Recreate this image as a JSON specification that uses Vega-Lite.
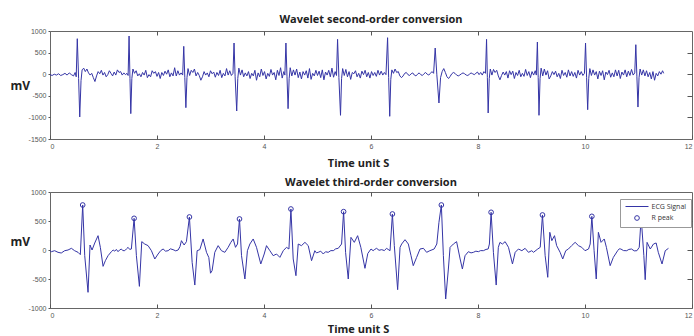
{
"$schema": "https://vega.github.io/schema/vega-lite/v6.json",
"padding": {"left": 9, "top": 13, "right": 0, "bottom": 0},
"bounds": "flush",
"spacing": 53,
"config": {
  "view": {"stroke": "#666", "strokeWidth": 1},
  "axis": {"grid": false, "domain": false, "minExtent": 0, "labelFont": "Liberation Sans", "labelFontSize": 7, "labelColor": "#555", "tickColor": "#555", "titleFont": "Open Sans", "titleFontSize": 11, "titleFontWeight": "bold", "titleColor": "#222"},
  "title": {"font": "Open Sans", "fontSize": 11, "fontWeight": "bold", "color": "#222", "anchor": "middle"}
},
"datasets": {
"top": [
{"t":0,"v":-10},{"t":0.04,"v":-30},{"t":0.08,"v":0},{"t":0.12,"v":-20},{"t":0.16,"v":10},{"t":0.2,"v":-30},{"t":0.24,"v":-10},{"t":0.28,"v":20},{"t":0.32,"v":-20},{"t":0.36,"v":30},{"t":0.4,"v":-10},{"t":0.44,"v":-40},{"t":0.47,"v":40},{"t":0.49,"v":-60},{"t":0.51,"v":822},{"t":0.535,"v":-100},{"t":0.556,"v":-990},{"t":0.58,"v":-150},{"t":0.6,"v":100},{"t":0.63,"v":140},{"t":0.66,"v":60},{"t":0.69,"v":120},{"t":0.72,"v":30},{"t":0.75,"v":-20},{"t":0.78,"v":20},{"t":0.81,"v":-80},{"t":0.84,"v":-170},{"t":0.87,"v":-40},{"t":0.9,"v":60},{"t":0.93,"v":10},{"t":0.96,"v":90},{"t":0.99,"v":-20},{"t":1.02,"v":40},{"t":1.05,"v":-60},{"t":1.08,"v":-10},{"t":1.11,"v":80},{"t":1.14,"v":20},{"t":1.17,"v":-40},{"t":1.2,"v":50},{"t":1.23,"v":-20},{"t":1.26,"v":100},{"t":1.29,"v":40},{"t":1.32,"v":60},{"t":1.35,"v":-20},{"t":1.38,"v":30},{"t":1.41,"v":-10},{"t":1.44,"v":20},{"t":1.46,"v":-30},{"t":1.478,"v":884},{"t":1.495,"v":-100},{"t":1.51,"v":-913},{"t":1.53,"v":-100},{"t":1.55,"v":120},{"t":1.58,"v":20},{"t":1.61,"v":80},{"t":1.64,"v":-40},{"t":1.67,"v":10},{"t":1.7,"v":-60},{"t":1.73,"v":40},{"t":1.76,"v":-20},{"t":1.79,"v":90},{"t":1.82,"v":-80},{"t":1.85,"v":-10},{"t":1.88,"v":-60},{"t":1.91,"v":80},{"t":1.94,"v":20},{"t":1.97,"v":60},{"t":2,"v":-50},{"t":2.03,"v":40},{"t":2.06,"v":-100},{"t":2.09,"v":40},{"t":2.12,"v":-30},{"t":2.15,"v":70},{"t":2.18,"v":0},{"t":2.21,"v":100},{"t":2.24,"v":-60},{"t":2.27,"v":30},{"t":2.3,"v":-40},{"t":2.33,"v":150},{"t":2.36,"v":-40},{"t":2.39,"v":80},{"t":2.42,"v":-20},{"t":2.45,"v":30},{"t":2.48,"v":-20},{"t":2.5,"v":645},{"t":2.52,"v":-80},{"t":2.54,"v":-775},{"t":2.56,"v":-80},{"t":2.58,"v":130},{"t":2.61,"v":-30},{"t":2.64,"v":90},{"t":2.67,"v":40},{"t":2.7,"v":120},{"t":2.73,"v":-40},{"t":2.76,"v":40},{"t":2.79,"v":-30},{"t":2.82,"v":-140},{"t":2.85,"v":-60},{"t":2.88,"v":60},{"t":2.91,"v":-20},{"t":2.94,"v":30},{"t":2.97,"v":-60},{"t":3,"v":80},{"t":3.03,"v":10},{"t":3.06,"v":50},{"t":3.09,"v":-70},{"t":3.12,"v":40},{"t":3.15,"v":-30},{"t":3.18,"v":90},{"t":3.21,"v":-80},{"t":3.24,"v":20},{"t":3.27,"v":-40},{"t":3.3,"v":130},{"t":3.33,"v":-20},{"t":3.36,"v":80},{"t":3.39,"v":-30},{"t":3.42,"v":20},{"t":3.44,"v":722},{"t":3.46,"v":-60},{"t":3.49,"v":-852},{"t":3.51,"v":-100},{"t":3.53,"v":140},{"t":3.56,"v":-20},{"t":3.59,"v":100},{"t":3.62,"v":-60},{"t":3.65,"v":30},{"t":3.68,"v":-40},{"t":3.71,"v":60},{"t":3.74,"v":-100},{"t":3.77,"v":20},{"t":3.8,"v":-40},{"t":3.83,"v":90},{"t":3.86,"v":-140},{"t":3.89,"v":30},{"t":3.92,"v":-60},{"t":3.95,"v":120},{"t":3.98,"v":-30},{"t":4.01,"v":60},{"t":4.04,"v":-110},{"t":4.07,"v":20},{"t":4.1,"v":-50},{"t":4.13,"v":110},{"t":4.16,"v":-20},{"t":4.19,"v":40},{"t":4.22,"v":-130},{"t":4.25,"v":90},{"t":4.28,"v":-30},{"t":4.31,"v":150},{"t":4.34,"v":-90},{"t":4.37,"v":60},{"t":4.39,"v":-20},{"t":4.41,"v":722},{"t":4.43,"v":-60},{"t":4.45,"v":-798},{"t":4.47,"v":-100},{"t":4.49,"v":150},{"t":4.52,"v":-40},{"t":4.55,"v":100},{"t":4.58,"v":-20},{"t":4.61,"v":120},{"t":4.64,"v":-80},{"t":4.67,"v":50},{"t":4.7,"v":-110},{"t":4.73,"v":60},{"t":4.76,"v":-20},{"t":4.79,"v":80},{"t":4.82,"v":-90},{"t":4.85,"v":130},{"t":4.88,"v":-120},{"t":4.91,"v":20},{"t":4.94,"v":-40},{"t":4.97,"v":90},{"t":5,"v":-30},{"t":5.03,"v":70},{"t":5.06,"v":-80},{"t":5.09,"v":100},{"t":5.12,"v":-130},{"t":5.15,"v":50},{"t":5.18,"v":-20},{"t":5.21,"v":90},{"t":5.24,"v":-60},{"t":5.27,"v":140},{"t":5.3,"v":-70},{"t":5.33,"v":60},{"t":5.355,"v":-30},{"t":5.375,"v":807},{"t":5.4,"v":-80},{"t":5.43,"v":-952},{"t":5.45,"v":-100},{"t":5.47,"v":130},{"t":5.5,"v":-30},{"t":5.53,"v":110},{"t":5.56,"v":-60},{"t":5.59,"v":60},{"t":5.62,"v":-120},{"t":5.65,"v":40},{"t":5.68,"v":10},{"t":5.71,"v":80},{"t":5.74,"v":-60},{"t":5.77,"v":20},{"t":5.8,"v":-90},{"t":5.83,"v":70},{"t":5.86,"v":-10},{"t":5.89,"v":90},{"t":5.92,"v":-60},{"t":5.95,"v":40},{"t":5.98,"v":-90},{"t":6.01,"v":60},{"t":6.04,"v":-30},{"t":6.07,"v":40},{"t":6.1,"v":-50},{"t":6.13,"v":90},{"t":6.16,"v":-20},{"t":6.19,"v":70},{"t":6.22,"v":-20},{"t":6.25,"v":40},{"t":6.28,"v":-10},{"t":6.31,"v":845},{"t":6.33,"v":-80},{"t":6.35,"v":-975},{"t":6.37,"v":-120},{"t":6.39,"v":100},{"t":6.42,"v":20},{"t":6.45,"v":120},{"t":6.48,"v":40},{"t":6.51,"v":60},{"t":6.54,"v":-40},{"t":6.57,"v":-80},{"t":6.6,"v":-40},{"t":6.63,"v":20},{"t":6.66,"v":40},{"t":6.69,"v":-10},{"t":6.72,"v":-30},{"t":6.75,"v":10},{"t":6.78,"v":30},{"t":6.81,"v":-20},{"t":6.84,"v":-40},{"t":6.87,"v":0},{"t":6.9,"v":30},{"t":6.93,"v":-10},{"t":6.96,"v":-30},{"t":6.99,"v":10},{"t":7.02,"v":40},{"t":7.05,"v":0},{"t":7.08,"v":-20},{"t":7.11,"v":20},{"t":7.14,"v":60},{"t":7.17,"v":20},{"t":7.2,"v":606},{"t":7.23,"v":0},{"t":7.27,"v":-667},{"t":7.3,"v":-80},{"t":7.33,"v":60},{"t":7.36,"v":130},{"t":7.39,"v":40},{"t":7.42,"v":-60},{"t":7.45,"v":-100},{"t":7.48,"v":-50},{"t":7.51,"v":10},{"t":7.54,"v":40},{"t":7.57,"v":20},{"t":7.6,"v":-20},{"t":7.63,"v":-40},{"t":7.66,"v":-20},{"t":7.69,"v":10},{"t":7.72,"v":30},{"t":7.75,"v":10},{"t":7.78,"v":-20},{"t":7.81,"v":-30},{"t":7.84,"v":0},{"t":7.87,"v":30},{"t":7.9,"v":10},{"t":7.93,"v":-10},{"t":7.96,"v":20},{"t":7.99,"v":50},{"t":8.02,"v":-10},{"t":8.05,"v":40},{"t":8.08,"v":-20},{"t":8.11,"v":60},{"t":8.14,"v":20},{"t":8.16,"v":807},{"t":8.175,"v":-80},{"t":8.19,"v":-898},{"t":8.21,"v":-100},{"t":8.23,"v":120},{"t":8.26,"v":-20},{"t":8.29,"v":110},{"t":8.32,"v":40},{"t":8.35,"v":90},{"t":8.38,"v":-40},{"t":8.41,"v":-130},{"t":8.44,"v":-30},{"t":8.47,"v":50},{"t":8.5,"v":-20},{"t":8.53,"v":60},{"t":8.56,"v":-90},{"t":8.59,"v":80},{"t":8.62,"v":-10},{"t":8.65,"v":70},{"t":8.68,"v":-100},{"t":8.71,"v":40},{"t":8.74,"v":-30},{"t":8.77,"v":90},{"t":8.8,"v":-60},{"t":8.83,"v":20},{"t":8.86,"v":-50},{"t":8.89,"v":110},{"t":8.92,"v":-30},{"t":8.95,"v":60},{"t":8.98,"v":-80},{"t":9.01,"v":60},{"t":9.04,"v":-20},{"t":9.07,"v":80},{"t":9.09,"v":-20},{"t":9.11,"v":745},{"t":9.125,"v":-80},{"t":9.14,"v":-952},{"t":9.16,"v":-100},{"t":9.18,"v":140},{"t":9.21,"v":-40},{"t":9.24,"v":120},{"t":9.27,"v":-20},{"t":9.3,"v":80},{"t":9.33,"v":-110},{"t":9.36,"v":-40},{"t":9.39,"v":60},{"t":9.42,"v":-10},{"t":9.45,"v":70},{"t":9.48,"v":-60},{"t":9.51,"v":20},{"t":9.54,"v":-100},{"t":9.57,"v":90},{"t":9.6,"v":-30},{"t":9.63,"v":40},{"t":9.66,"v":-70},{"t":9.69,"v":100},{"t":9.72,"v":-40},{"t":9.75,"v":60},{"t":9.78,"v":-50},{"t":9.81,"v":40},{"t":9.84,"v":-90},{"t":9.87,"v":90},{"t":9.9,"v":-20},{"t":9.93,"v":60},{"t":9.96,"v":-30},{"t":9.99,"v":20},{"t":10.01,"v":722},{"t":10.03,"v":-80},{"t":10.05,"v":-822},{"t":10.07,"v":-100},{"t":10.09,"v":130},{"t":10.12,"v":-30},{"t":10.15,"v":100},{"t":10.18,"v":-20},{"t":10.21,"v":60},{"t":10.24,"v":-110},{"t":10.27,"v":70},{"t":10.3,"v":-30},{"t":10.33,"v":80},{"t":10.36,"v":-130},{"t":10.39,"v":50},{"t":10.42,"v":-10},{"t":10.45,"v":90},{"t":10.48,"v":-70},{"t":10.51,"v":30},{"t":10.54,"v":-60},{"t":10.57,"v":100},{"t":10.6,"v":-40},{"t":10.63,"v":90},{"t":10.66,"v":-100},{"t":10.69,"v":50},{"t":10.72,"v":-20},{"t":10.75,"v":100},{"t":10.78,"v":-60},{"t":10.81,"v":70},{"t":10.84,"v":-30},{"t":10.87,"v":110},{"t":10.9,"v":-20},{"t":10.93,"v":30},{"t":10.95,"v":683},{"t":10.97,"v":-60},{"t":10.99,"v":-760},{"t":11.01,"v":-80},{"t":11.03,"v":120},{"t":11.06,"v":-20},{"t":11.09,"v":100},{"t":11.12,"v":-40},{"t":11.15,"v":80},{"t":11.18,"v":-60},{"t":11.21,"v":40},{"t":11.24,"v":-110},{"t":11.27,"v":60},{"t":11.3,"v":-140},{"t":11.33,"v":20},{"t":11.36,"v":-40},{"t":11.39,"v":60},{"t":11.42,"v":0},{"t":11.45,"v":80},{"t":11.47,"v":20}
],
"bot": [
{"t":0,"v":-10},{"t":0.025,"v":-29},{"t":0.087,"v":-12},{"t":0.15,"v":-40},{"t":0.21,"v":-52},{"t":0.275,"v":-12},{"t":0.337,"v":0},{"t":0.4,"v":29},{"t":0.46,"v":-12},{"t":0.524,"v":-40},{"t":0.567,"v":-80},{"t":0.611,"v":776},{"t":0.649,"v":-98},{"t":0.711,"v":-730},{"t":0.748,"v":86},{"t":0.786,"v":0},{"t":0.836,"v":120},{"t":0.898,"v":247},{"t":0.941,"v":46},{"t":0.992,"v":-282},{"t":1.035,"v":-184},{"t":1.085,"v":-98},{"t":1.147,"v":-29},{"t":1.18,"v":0},{"t":1.21,"v":-20},{"t":1.24,"v":10},{"t":1.272,"v":-29},{"t":1.3,"v":0},{"t":1.334,"v":17},{"t":1.36,"v":-10},{"t":1.397,"v":-12},{"t":1.43,"v":20},{"t":1.459,"v":46},{"t":1.49,"v":10},{"t":1.521,"v":17},{"t":1.572,"v":546},{"t":1.615,"v":-98},{"t":1.671,"v":-627},{"t":1.715,"v":144},{"t":1.771,"v":103},{"t":1.833,"v":75},{"t":1.896,"v":-12},{"t":1.959,"v":-155},{"t":2.02,"v":-69},{"t":2.07,"v":-10},{"t":2.114,"v":17},{"t":2.16,"v":-20},{"t":2.208,"v":-12},{"t":2.25,"v":20},{"t":2.3,"v":6},{"t":2.35,"v":-15},{"t":2.395,"v":0},{"t":2.43,"v":60},{"t":2.457,"v":161},{"t":2.507,"v":86},{"t":2.55,"v":144},{"t":2.606,"v":569},{"t":2.657,"v":-213},{"t":2.707,"v":-604},{"t":2.75,"v":-12},{"t":2.8,"v":6},{"t":2.862,"v":190},{"t":2.925,"v":-40},{"t":2.969,"v":-130},{"t":3.0,"v":-400},{"t":3.03,"v":-356},{"t":3.08,"v":-40},{"t":3.143,"v":75},{"t":3.205,"v":-12},{"t":3.268,"v":-40},{"t":3.33,"v":46},{"t":3.38,"v":132},{"t":3.424,"v":190},{"t":3.467,"v":46},{"t":3.505,"v":103},{"t":3.542,"v":535},{"t":3.58,"v":-98},{"t":3.643,"v":-500},{"t":3.69,"v":-12},{"t":3.736,"v":103},{"t":3.798,"v":190},{"t":3.86,"v":46},{"t":3.94,"v":-241},{"t":4.004,"v":-69},{"t":4.047,"v":75},{"t":4.11,"v":-12},{"t":4.172,"v":-98},{"t":4.234,"v":-69},{"t":4.297,"v":-127},{"t":4.36,"v":-12},{"t":4.42,"v":46},{"t":4.466,"v":17},{"t":4.503,"v":707},{"t":4.546,"v":-155},{"t":4.597,"v":-443},{"t":4.64,"v":103},{"t":4.7,"v":75},{"t":4.765,"v":132},{"t":4.827,"v":75},{"t":4.889,"v":-184},{"t":4.95,"v":-12},{"t":4.98,"v":-50},{"t":5.014,"v":-40},{"t":5.06,"v":-20},{"t":5.108,"v":-69},{"t":5.15,"v":-30},{"t":5.2,"v":-40},{"t":5.25,"v":-10},{"t":5.295,"v":-12},{"t":5.34,"v":20},{"t":5.388,"v":29},{"t":5.45,"v":103},{"t":5.488,"v":661},{"t":5.525,"v":-40},{"t":5.575,"v":-500},{"t":5.625,"v":218},{"t":5.688,"v":132},{"t":5.75,"v":247},{"t":5.81,"v":46},{"t":5.887,"v":-316},{"t":5.94,"v":-60},{"t":6.0,"v":17},{"t":6.04,"v":-12},{"t":6.07,"v":10},{"t":6.105,"v":29},{"t":6.15,"v":-5},{"t":6.2,"v":6},{"t":6.25,"v":-10},{"t":6.29,"v":29},{"t":6.32,"v":10},{"t":6.356,"v":-12},{"t":6.4,"v":621},{"t":6.436,"v":75},{"t":6.498,"v":-684},{"t":6.543,"v":46},{"t":6.573,"v":103},{"t":6.636,"v":178},{"t":6.698,"v":103},{"t":6.748,"v":-98},{"t":6.79,"v":-270},{"t":6.853,"v":-127},{"t":6.916,"v":17},{"t":6.98,"v":29},{"t":7.04,"v":-40},{"t":7.1,"v":-12},{"t":7.18,"v":17},{"t":7.23,"v":103},{"t":7.27,"v":477},{"t":7.315,"v":776},{"t":7.353,"v":-98},{"t":7.396,"v":-845},{"t":7.446,"v":-328},{"t":7.478,"v":46},{"t":7.54,"v":103},{"t":7.6,"v":144},{"t":7.666,"v":-155},{"t":7.708,"v":-328},{"t":7.758,"v":-98},{"t":7.82,"v":-29},{"t":7.87,"v":-50},{"t":7.914,"v":-40},{"t":7.96,"v":-20},{"t":8.007,"v":-29},{"t":8.05,"v":-10},{"t":8.1,"v":-12},{"t":8.15,"v":10},{"t":8.19,"v":17},{"t":8.213,"v":103},{"t":8.245,"v":650},{"t":8.288,"v":-40},{"t":8.34,"v":-604},{"t":8.38,"v":46},{"t":8.41,"v":132},{"t":8.457,"v":103},{"t":8.507,"v":144},{"t":8.57,"v":46},{"t":8.644,"v":-241},{"t":8.695,"v":-40},{"t":8.756,"v":17},{"t":8.82,"v":-12},{"t":8.88,"v":29},{"t":8.943,"v":-40},{"t":9.005,"v":-12},{"t":9.037,"v":-40},{"t":9.117,"v":17},{"t":9.163,"v":46},{"t":9.205,"v":604},{"t":9.255,"v":-98},{"t":9.304,"v":-471},{"t":9.342,"v":305},{"t":9.38,"v":161},{"t":9.43,"v":247},{"t":9.47,"v":75},{"t":9.535,"v":-40},{"t":9.584,"v":-155},{"t":9.64,"v":-12},{"t":9.69,"v":17},{"t":9.75,"v":75},{"t":9.816,"v":132},{"t":9.878,"v":75},{"t":9.94,"v":46},{"t":10.0,"v":-12},{"t":10.066,"v":17},{"t":10.097,"v":103},{"t":10.128,"v":580},{"t":10.17,"v":-12},{"t":10.21,"v":-500},{"t":10.25,"v":305},{"t":10.3,"v":132},{"t":10.36,"v":190},{"t":10.4,"v":46},{"t":10.47,"v":-270},{"t":10.53,"v":-127},{"t":10.61,"v":-12},{"t":10.64,"v":20},{"t":10.67,"v":17},{"t":10.72,"v":-10},{"t":10.78,"v":-12},{"t":10.82,"v":10},{"t":10.87,"v":17},{"t":10.92,"v":-15},{"t":10.97,"v":-12},{"t":11.014,"v":46},{"t":11.05,"v":560},{"t":11.1,"v":-98},{"t":11.125,"v":-512},{"t":11.16,"v":132},{"t":11.22,"v":17},{"t":11.28,"v":103},{"t":11.33,"v":121},{"t":11.37,"v":-40},{"t":11.44,"v":-241},{"t":11.5,"v":-12},{"t":11.56,"v":29}
],
"peaks": [
{"t":0.611,"v":776},{"t":1.572,"v":546},{"t":2.606,"v":569},{"t":3.542,"v":535},{"t":4.503,"v":707},{"t":5.488,"v":661},{"t":6.4,"v":621},{"t":7.315,"v":776},{"t":8.245,"v":650},{"t":9.205,"v":604},{"t":10.128,"v":580},{"t":11.05,"v":560}
]
},
"vconcat": [
{
  "width": 642, "height": 108,
  "title": {"text": "Wavelet second-order conversion", "offset": -7, "baseline": "alphabetic"},
  "data": {"name": "top"},
  "layer": [
    {
      "mark": {"type": "line", "color": "#3535a6", "strokeWidth": 1},
      "encoding": {
        "x": {"field": "t", "type": "quantitative", "scale": {"domain": [0, 12], "nice": false, "zero": false},
              "axis": {"orient": "bottom", "values": [0,2,4,6,8,10,12], "tickSize": -4, "labelPadding": 7, "labelExpr": "'' + datum.value", "title": "Time unit S", "titleX": 308, "titleY": 27, "titleAlign": "center", "titleBaseline": "alphabetic"}},
        "y": {"field": "v", "type": "quantitative", "scale": {"domain": [-1500, 1000], "nice": false, "zero": false},
              "axis": {"orient": "left", "values": [-1500,-1000,-500,0,500,1000], "tickSize": 2, "labelPadding": 2, "labelExpr": "'' + datum.value", "title": "mV", "titleFontSize": 12, "titleAngle": 0, "titleX": -40, "titleY": 54, "titleAlign": "left", "titleBaseline": "middle"}}
      }
    },
    {
      "mark": {"type": "line", "opacity": 0},
      "encoding": {
        "x": {"field": "t", "type": "quantitative", "axis": {"orient": "top", "values": [2,4,6,8,10], "tickSize": -4, "labels": false, "title": null}},
        "y": {"field": "v", "type": "quantitative", "axis": {"orient": "right", "values": [-1000,-500,0,500], "tickSize": -5, "labels": false, "title": null}}
      }
    }
  ],
  "resolve": {"axis": {"x": "independent", "y": "independent"}}
},
{
  "width": 642, "height": 116,
  "title": {"text": "Wavelet third-order conversion", "offset": -9, "baseline": "alphabetic"},
  "layer": [
    {
      "data": {"name": "bot"},
      "mark": {"type": "line", "strokeWidth": 1},
      "encoding": {
        "x": {"field": "t", "type": "quantitative", "scale": {"domain": [0, 12], "nice": false, "zero": false},
              "axis": {"orient": "bottom", "values": [0,2,4,6,8,10,12], "tickSize": -4, "labelPadding": 7, "labelExpr": "'' + datum.value", "title": "Time unit S", "titleX": 308, "titleY": 24, "titleAlign": "center", "titleBaseline": "alphabetic"}},
        "y": {"field": "v", "type": "quantitative", "scale": {"domain": [-1000, 1000], "nice": false, "zero": false},
              "axis": {"orient": "left", "values": [-1000,-500,0,500,1000], "tickSize": 2, "labelPadding": 2, "labelExpr": "'' + datum.value", "title": "mV", "titleFontSize": 12, "titleAngle": 0, "titleX": -40, "titleY": 49, "titleAlign": "left", "titleBaseline": "middle"}},
        "color": {"datum": "ECG Signal", "type": "nominal",
          "scale": {"domain": ["ECG Signal", "R peak"], "range": ["#3535a6", "#3535a6"]},
          "legend": {"title": null, "orient": "none", "legendX": 570, "legendY": 168, "fillColor": "white", "strokeColor": "#999", "padding": 4, "labelFont": "Open Sans", "labelFontSize": 7, "labelColor": "#333", "symbolSize": 22, "symbolOffset": 9.5, "labelOffset": 11, "rowPadding": 3.5,
            "encode": {"symbols": {"update": {"shape": {"signal": "datum.value === 'R peak' ? 'circle' : 'M-4.9,0H4.9'"}, "fill": {"value": "transparent"}, "stroke": {"value": "#3535a6"}, "strokeWidth": {"value": 1}}}}}}
      }
    },
    {
      "data": {"name": "peaks"},
      "mark": {"type": "point", "filled": false, "size": 22, "strokeWidth": 1, "opacity": 1},
      "encoding": {
        "x": {"field": "t", "type": "quantitative", "axis": null},
        "y": {"field": "v", "type": "quantitative", "axis": null},
        "color": {"datum": "R peak", "type": "nominal"}
      }
    },
    {
      "data": {"name": "bot"},
      "mark": {"type": "line", "opacity": 0},
      "encoding": {
        "x": {"field": "t", "type": "quantitative", "axis": {"orient": "top", "values": [2,4,6,8,10], "tickSize": -4, "labels": false, "title": null}},
        "y": {"field": "v", "type": "quantitative", "axis": {"orient": "right", "values": [-500,0,500], "tickSize": -5, "labels": false, "title": null}}
      }
    }
  ],
  "resolve": {"axis": {"x": "independent", "y": "independent"}}
}
]
}
